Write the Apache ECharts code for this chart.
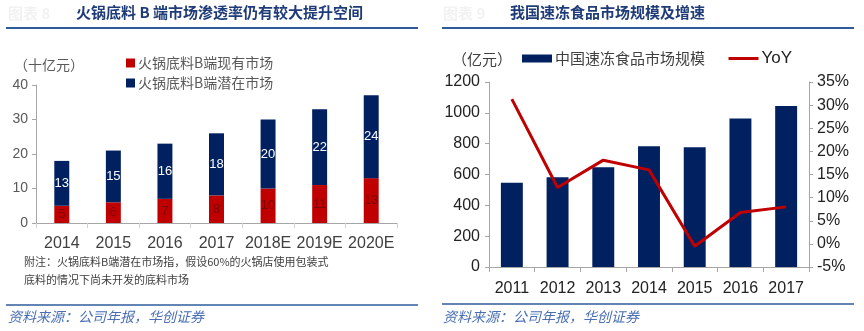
<!DOCTYPE html>
<html>
<head>
<meta charset="utf-8">
<script src="https://cdn.jsdelivr.net/npm/echarts@6/dist/echarts.min.js"></script>
<style>
  html, body { margin: 0; padding: 0; background: #fff; }
  #chart { width: 864px; height: 331px; }
</style>
</head>
<body>
<div id="chart"></div>
<script>
// Left panel: hotpot seasoning B-side market (十亿元)
const hotpotYears = ['2014', '2015', '2016', '2017', '2018E', '2019E', '2020E'];
const hotpotExisting = [5, 6, 7, 8, 10, 11, 13];
const hotpotPotential = [13, 15, 16, 18, 20, 22, 24];

// Right panel: frozen food market size (亿元) and YoY growth (%)
const frozenYears = ['2011', '2012', '2013', '2014', '2015', '2016', '2017'];
const frozenSize = [547, 582, 647, 783, 777, 964, 1044];
const frozenYoY = [31.3, 12.2, 18.1, 16.0, -0.5, 6.8, 8.0];

const FONT = '"Noto Sans CJK SC", "Liberation Sans", Arial, sans-serif';
const NUM = '"Liberation Sans", Arial, sans-serif';
const NAVY = '#002060';
const RED = '#C00000';
const RULE = '#2E5C9A';

const chart = echarts.init(document.getElementById('chart'), null, { renderer: 'canvas' });

const axisLine = { show: true, lineStyle: { color: '#a6a6a6', width: 1 } };
const axisTick = { show: true, length: 4, lineStyle: { color: '#a6a6a6' } };

const option = {
  animation: false,
  textStyle: { fontFamily: FONT },
  grid: [
    { left: 36, top: 85, width: 361, height: 138 },
    { left: 489, top: 82, width: 320, height: 185 }
  ],
  legend: [
    {
      data: ['火锅底料B端现有市场', '火锅底料B端潜在市场'],
      orient: 'vertical', left: 121, top: 51,
      itemWidth: 9, itemHeight: 9, itemGap: 6,
      icon: 'rect',
      textStyle: { color: '#595959', fontSize: 14, fontFamily: FONT, padding: [0, 0, 0, -2] }
    },
    {
      data: [
        { name: '中国速冻食品市场规模', icon: 'rect' },
        {
          name: 'YoY', itemStyle: { opacity: 0 }, lineStyle: { color: RED, width: 3 },
          textStyle: { fontSize: 17, fontFamily: NUM, color: '#222' }
        }
      ],
      orient: 'horizontal', left: 517, top: 45,
      itemWidth: 30, itemHeight: 8, itemGap: 22,
      textStyle: { color: '#404040', fontSize: 15, fontFamily: FONT, padding: [0, 0, 0, -2] }
    }
  ],
  xAxis: [
    {
      type: 'category', gridIndex: 0, data: hotpotYears,
      axisLine: axisLine, axisTick: { show: true, length: 5, lineStyle: { color: '#d0d0d0' } },
      axisLabel: { color: '#404040', fontSize: 16, margin: 13, fontFamily: NUM, interval: 0 }
    },
    {
      type: 'category', gridIndex: 1, data: frozenYears,
      axisLine: axisLine, axisTick: { show: true, length: 5, lineStyle: { color: '#a6a6a6' } },
      axisLabel: { color: '#222', fontSize: 16, margin: 14, fontFamily: NUM, interval: 0 }
    }
  ],
  yAxis: [
    {
      type: 'value', gridIndex: 0, min: 0, max: 40, interval: 10,
      axisLine: axisLine, axisTick: axisTick, splitLine: { show: false },
      axisLabel: { color: '#595959', fontSize: 14, margin: 8, fontFamily: NUM }
    },
    {
      type: 'value', gridIndex: 1, min: 0, max: 1200, interval: 200,
      axisLine: axisLine, axisTick: axisTick, splitLine: { show: false },
      axisLabel: { color: '#222', fontSize: 16, margin: 9, fontFamily: NUM, formatter: v => String(v) }
    },
    {
      type: 'value', gridIndex: 1, position: 'right', min: -5, max: 35, interval: 5,
      axisLine: axisLine, axisTick: axisTick, splitLine: { show: false },
      axisLabel: { color: '#222', fontSize: 16, margin: 8, fontFamily: NUM, formatter: '{value}%' }
    }
  ],
  series: [
    {
      name: '火锅底料B端现有市场', type: 'bar', stack: 'hp',
      xAxisIndex: 0, yAxisIndex: 0, data: hotpotExisting,
      barWidth: '29%', itemStyle: { color: RED },
      label: { show: true, position: 'inside', color: '#7a0606', fontSize: 13, fontFamily: NUM }
    },
    {
      name: '火锅底料B端潜在市场', type: 'bar', stack: 'hp',
      xAxisIndex: 0, yAxisIndex: 0, data: hotpotPotential,
      barWidth: '29%', itemStyle: { color: NAVY },
      label: { show: true, position: 'inside', color: '#ffffff', fontSize: 13, fontFamily: NUM }
    },
    {
      name: '中国速冻食品市场规模', type: 'bar',
      xAxisIndex: 1, yAxisIndex: 1, data: frozenSize,
      barWidth: '48%', itemStyle: { color: NAVY }
    },
    {
      name: 'YoY', type: 'line',
      xAxisIndex: 1, yAxisIndex: 2, data: frozenYoY,
      symbol: 'none', lineStyle: { color: RED, width: 3 }, itemStyle: { color: RED }
    }
  ],
  graphic: [
    // panel headers
    { type: 'text', left: 8, top: 6, style: { text: '图表 8', fill: '#f2f2f2', font: 'bold 15px ' + FONT } },
    { type: 'text', left: 76, top: 5, style: { text: '火锅底料 B 端市场渗透率仍有较大提升空间', fill: '#1F3C78', font: 'bold 15px ' + FONT } },
    { type: 'line', shape: { x1: 6, y1: 28, x2: 418, y2: 28 }, style: { stroke: RULE, lineWidth: 2 } },
    { type: 'text', left: 443, top: 6, style: { text: '图表 9', fill: '#f2f2f2', font: 'bold 15px ' + FONT } },
    { type: 'text', left: 510, top: 5, style: { text: '我国速冻食品市场规模及增速', fill: '#1F3C78', font: 'bold 15px ' + FONT } },
    { type: 'line', shape: { x1: 442, y1: 28, x2: 854, y2: 28 }, style: { stroke: RULE, lineWidth: 2 } },

    // unit labels
    { type: 'text', left: 14, top: 58, style: { text: '（十亿元）', fill: '#595959', font: '14px ' + FONT } },
    { type: 'text', left: 452, top: 52, style: { text: '（亿元）', fill: '#404040', font: '15px ' + FONT } },

    // footnote
    { type: 'text', left: 24, top: 256, style: { text: '附注：火锅底料B端潜在市场指，假设60%的火锅店使用包装式', fill: '#404040', font: '11px ' + FONT } },
    { type: 'text', left: 24, top: 274, style: { text: '底料的情况下尚未开发的底料市场', fill: '#404040', font: '11px ' + FONT } },

    // source lines
    { type: 'line', shape: { x1: 6, y1: 305, x2: 418, y2: 305 }, style: { stroke: RULE, lineWidth: 1.5 } },
    { type: 'text', left: 8, top: 310, style: { text: '资料来源：公司年报，华创证券', fill: '#4A6FB5', font: 'italic 14px ' + FONT } },
    { type: 'line', shape: { x1: 442, y1: 304, x2: 854, y2: 304 }, style: { stroke: RULE, lineWidth: 1.5 } },
    { type: 'text', left: 443, top: 310, style: { text: '资料来源：公司年报，华创证券', fill: '#4A6FB5', font: 'italic 14px ' + FONT } }
  ]
};

chart.setOption(option);
</script>
</body>
</html>
